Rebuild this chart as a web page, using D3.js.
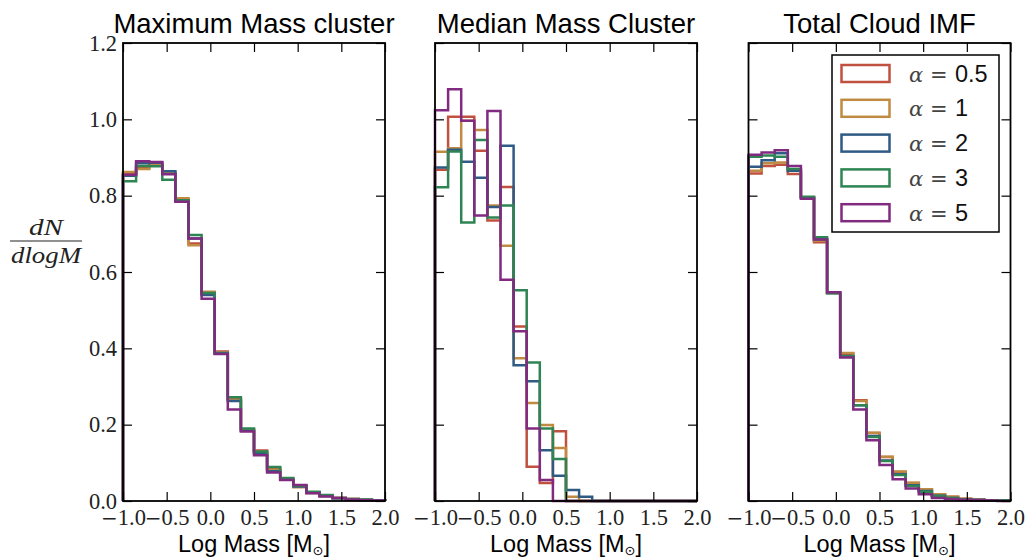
<!DOCTYPE html>
<html>
<head>
<meta charset="utf-8">
<script src="https://cdn.jsdelivr.net/npm/d3@7"></script>
<style>
  html, body { margin: 0; padding: 0; background: #ffffff; }
  svg { display: block; }
</style>
</head>
<body>
<svg id="chart" width="1027" height="558"></svg>
<script>
// ---------------- DATA ----------------
const binEdges = [-1.0, -0.85, -0.7, -0.55, -0.4, -0.25, -0.1, 0.05, 0.2, 0.35, 0.5,
                  0.65, 0.8, 0.95, 1.1, 1.25, 1.4, 1.55, 1.7, 1.85, 2.0];
const panelTitles = ["Maximum Mass cluster", "Median Mass Cluster", "Total Cloud IMF"];
const seriesAlpha = ["0.5", "1", "2", "3", "5"];
const seriesColors = ["#c0503f", "#c08a42", "#2f5a84", "#2e8553", "#802a80"];
const xTickValues = [-1.0, -0.5, 0.0, 0.5, 1.0, 1.5, 2.0];
const yTickValues = [0.0, 0.2, 0.4, 0.6, 0.8, 1.0, 1.2];
const xLabel = "Log Mass [M";
const yLabelNum = "dN";
const yLabelDen = "dlogM";

// Panel 1: Maximum mass cluster
const maxRed    = [0.858, 0.872, 0.882, 0.858, 0.790, 0.675, 0.545, 0.392, 0.268, 0.188, 0.132, 0.085, 0.058, 0.038, 0.022, 0.014, 0.008, 0.005, 0.003, 0.002];
const maxOrange = [0.862, 0.870, 0.880, 0.860, 0.793, 0.670, 0.548, 0.390, 0.265, 0.185, 0.130, 0.082, 0.056, 0.036, 0.021, 0.013, 0.008, 0.005, 0.003, 0.002];
const maxBlue   = [0.852, 0.885, 0.886, 0.864, 0.785, 0.688, 0.540, 0.388, 0.262, 0.184, 0.125, 0.078, 0.056, 0.038, 0.022, 0.014, 0.007, 0.004, 0.003, 0.002];
const maxGreen  = [0.838, 0.878, 0.877, 0.842, 0.788, 0.697, 0.545, 0.386, 0.272, 0.190, 0.130, 0.089, 0.060, 0.040, 0.024, 0.016, 0.008, 0.005, 0.003, 0.002];
const maxPurple = [0.855, 0.890, 0.888, 0.856, 0.784, 0.688, 0.530, 0.385, 0.240, 0.182, 0.120, 0.075, 0.055, 0.042, 0.020, 0.012, 0.008, 0.004, 0.002, 0.001];

// Panel 2: Median mass cluster
const medRed    = [0.868, 1.007, 1.007, 0.918, 0.735, 0.823, 0.457, 0.090, 0.047, 0.183, 0, 0, 0, 0, 0, 0, 0, 0, 0, 0];
const medOrange = [0.915, 0.924, 0.996, 0.972, 0.774, 0.669, 0.374, 0.257, 0.199, 0.139, 0.011, 0, 0, 0, 0, 0, 0, 0, 0, 0];
const medBlue   = [0.874, 0.920, 0.889, 0.847, 0.770, 0.931, 0.356, 0.314, 0.133, 0.066, 0.029, 0.011, 0, 0, 0, 0, 0, 0, 0, 0];
const medGreen  = [0.822, 0.916, 0.730, 0.946, 0.743, 0.774, 0.552, 0.363, 0.190, 0.110, 0, 0, 0, 0, 0, 0, 0, 0, 0, 0];
const medPurple = [1.024, 1.079, 0.996, 0.748, 1.022, 0.580, 0.445, 0.190, 0.055, 0, 0, 0, 0, 0, 0, 0, 0, 0, 0, 0];

// Panel 3: Total cloud IMF
const totRed    = [0.858, 0.878, 0.881, 0.857, 0.795, 0.678, 0.545, 0.386, 0.264, 0.178, 0.115, 0.076, 0.047, 0.030, 0.018, 0.011, 0.006, 0.004, 0.002, 0.001];
const totOrange = [0.865, 0.885, 0.887, 0.865, 0.796, 0.682, 0.546, 0.388, 0.262, 0.179, 0.116, 0.077, 0.048, 0.031, 0.018, 0.011, 0.006, 0.004, 0.002, 0.001];
const totBlue   = [0.876, 0.893, 0.911, 0.865, 0.795, 0.686, 0.545, 0.380, 0.251, 0.170, 0.106, 0.070, 0.041, 0.026, 0.014, 0.008, 0.004, 0.003, 0.001, 0.001];
const totGreen  = [0.902, 0.905, 0.902, 0.870, 0.797, 0.691, 0.544, 0.379, 0.251, 0.168, 0.105, 0.068, 0.039, 0.024, 0.013, 0.008, 0.004, 0.002, 0.001, 0.001];
const totPurple = [0.907, 0.913, 0.919, 0.878, 0.792, 0.685, 0.547, 0.376, 0.240, 0.159, 0.094, 0.057, 0.033, 0.018, 0.008, 0.005, 0.003, 0.002, 0.001, 0.000];

const panelData = [
  [maxRed, maxOrange, maxBlue, maxGreen, maxPurple],
  [medRed, medOrange, medBlue, medGreen, medPurple],
  [totRed, totOrange, totBlue, totGreen, totPurple]
];

// ---------------- LAYOUT ----------------
const svg = d3.select("#chart");
const panelLeft = [123, 435, 748.5];
const panelWidth = 262;
const plotTop = 43, plotBottom = 501;
const tickLen = 9;
const serifFont = "'Liberation Serif', 'DejaVu Serif', serif";
const sansFont = "'Liberation Sans', Arial, sans-serif";

const y = d3.scaleLinear().domain([0, 1.2]).range([plotBottom, plotTop]);

function fixMinus(sel) {
  sel.selectAll(".tick text").each(function() {
    const t = d3.select(this);
    const s = t.text();
    if (s.startsWith("\u2212")) {
      t.text(null);
      t.append("tspan").attr("font-family", "'DejaVu Sans', sans-serif").attr("font-size", 20).text("\u2212");
      t.append("tspan").text(s.slice(1));
    }
  });
}

panelData.forEach((seriesList, p) => {
  const x = d3.scaleLinear().domain([-1, 2]).range([panelLeft[p], panelLeft[p] + panelWidth]);
  const g = svg.append("g");

  // histogram step lines
  const line = d3.line().x(d => x(d[0])).y(d => y(d[1]));
  seriesList.forEach((vals, s) => {
    const pts = [[binEdges[0], 0]];
    vals.forEach((v, i) => { pts.push([binEdges[i], v]); pts.push([binEdges[i + 1], v]); });
    pts.push([binEdges[binEdges.length - 1], 0]);
    g.append("path").attr("d", line(pts))
      .attr("fill", "none").attr("stroke", seriesColors[s])
      .attr("stroke-width", 2.5).attr("stroke-linejoin", "miter");
  });

  // axes
  const fmt = d3.format(".1f");
  const bottom = g.append("g").attr("transform", `translate(0,${plotBottom})`)
    .call(d3.axisBottom(x).tickValues(xTickValues).tickFormat(fmt).tickSizeInner(-tickLen).tickSizeOuter(0).tickPadding(8));
  const top = g.append("g").attr("transform", `translate(0,${plotTop})`)
    .call(d3.axisTop(x).tickValues(xTickValues).tickFormat("").tickSizeInner(-tickLen).tickSizeOuter(0));
  const left = g.append("g").attr("transform", `translate(${panelLeft[p]},0)`)
    .call(d3.axisLeft(y).tickValues(yTickValues).tickFormat(p === 0 ? fmt : "").tickSizeInner(-tickLen).tickSizeOuter(0).tickPadding(6));
  const right = g.append("g").attr("transform", `translate(${panelLeft[p] + panelWidth},0)`)
    .call(d3.axisRight(y).tickValues(yTickValues).tickFormat("").tickSizeInner(-tickLen).tickSizeOuter(0));

  [bottom, top, left, right].forEach(a => {
    a.select(".domain").remove();
    a.selectAll(".tick line").attr("stroke", "#000").attr("stroke-width", 1.2);
    a.selectAll(".tick text").attr("font-family", serifFont).attr("font-size", 22.5).attr("fill", "#222");
  });
  fixMinus(bottom);

  // frame (spines)
  g.append("rect").attr("x", panelLeft[p]).attr("y", plotTop)
    .attr("width", panelWidth).attr("height", plotBottom - plotTop)
    .attr("fill", "none").attr("stroke", "#000").attr("stroke-width", 1.8);

  // title
  g.append("text").attr("x", panelLeft[p] + panelWidth / 2).attr("y", 33)
    .attr("text-anchor", "middle").attr("font-family", sansFont).attr("font-size", 27.5)
    .attr("fill", "#000").text(panelTitles[p]);

  // x label
  const xl = g.append("text").attr("x", panelLeft[p] + panelWidth / 2).attr("y", 552)
    .attr("text-anchor", "middle").attr("font-family", sansFont).attr("font-size", 23.5).attr("fill", "#000");
  xl.append("tspan").text(xLabel);
  xl.append("tspan").attr("font-family", "'DejaVu Sans', sans-serif").attr("font-size", 13).attr("dy", 3).text("\u2299");
  xl.append("tspan").attr("dy", -3).text("]");

  // legend in panel 3
  if (p === 2) {
    const lg = g.append("g");
    lg.append("rect").attr("x", 832).attr("y", 55).attr("width", 167).attr("height", 177)
      .attr("fill", "#fff").attr("stroke", "#000").attr("stroke-width", 1.5);
    seriesAlpha.forEach((a, i) => {
      const cy = 73.5 + i * 34.8;
      lg.append("rect").attr("x", 841.5).attr("y", cy - 8.5).attr("width", 48).attr("height", 17)
        .attr("fill", "none").attr("stroke", seriesColors[i]).attr("stroke-width", 2.5);
      const t = lg.append("text").attr("y", cy + 8).attr("fill", "#111");
      t.append("tspan").attr("x", 909).attr("font-family", "'DejaVu Serif', serif").attr("font-style", "italic").attr("font-size", 21).attr("fill", "#444").text("\u03b1");
      t.append("tspan").attr("x", 930).attr("font-family", "'DejaVu Sans', sans-serif").attr("font-size", 21).attr("fill", "#444").text("=");
      t.append("tspan").attr("x", 955).attr("font-family", sansFont).attr("font-size", 23.5).text(a);
    });
  }
});

// y label (fraction)
const yl = svg.append("g");
yl.append("text").attr("x", 46).attr("y", 235).attr("text-anchor", "middle")
  .attr("font-family", serifFont).attr("font-style", "italic").attr("font-size", 23)
  .attr("textLength", 34).attr("lengthAdjust", "spacingAndGlyphs").attr("fill", "#222").text(yLabelNum);
yl.append("line").attr("x1", 10).attr("x2", 82).attr("y1", 241).attr("y2", 241)
  .attr("stroke", "#222").attr("stroke-width", 1.2);
yl.append("text").attr("x", 46).attr("y", 263).attr("text-anchor", "middle")
  .attr("font-family", serifFont).attr("font-style", "italic").attr("font-size", 23)
  .attr("textLength", 70).attr("lengthAdjust", "spacingAndGlyphs").attr("fill", "#222").text(yLabelDen);
</script>
</body>
</html>
